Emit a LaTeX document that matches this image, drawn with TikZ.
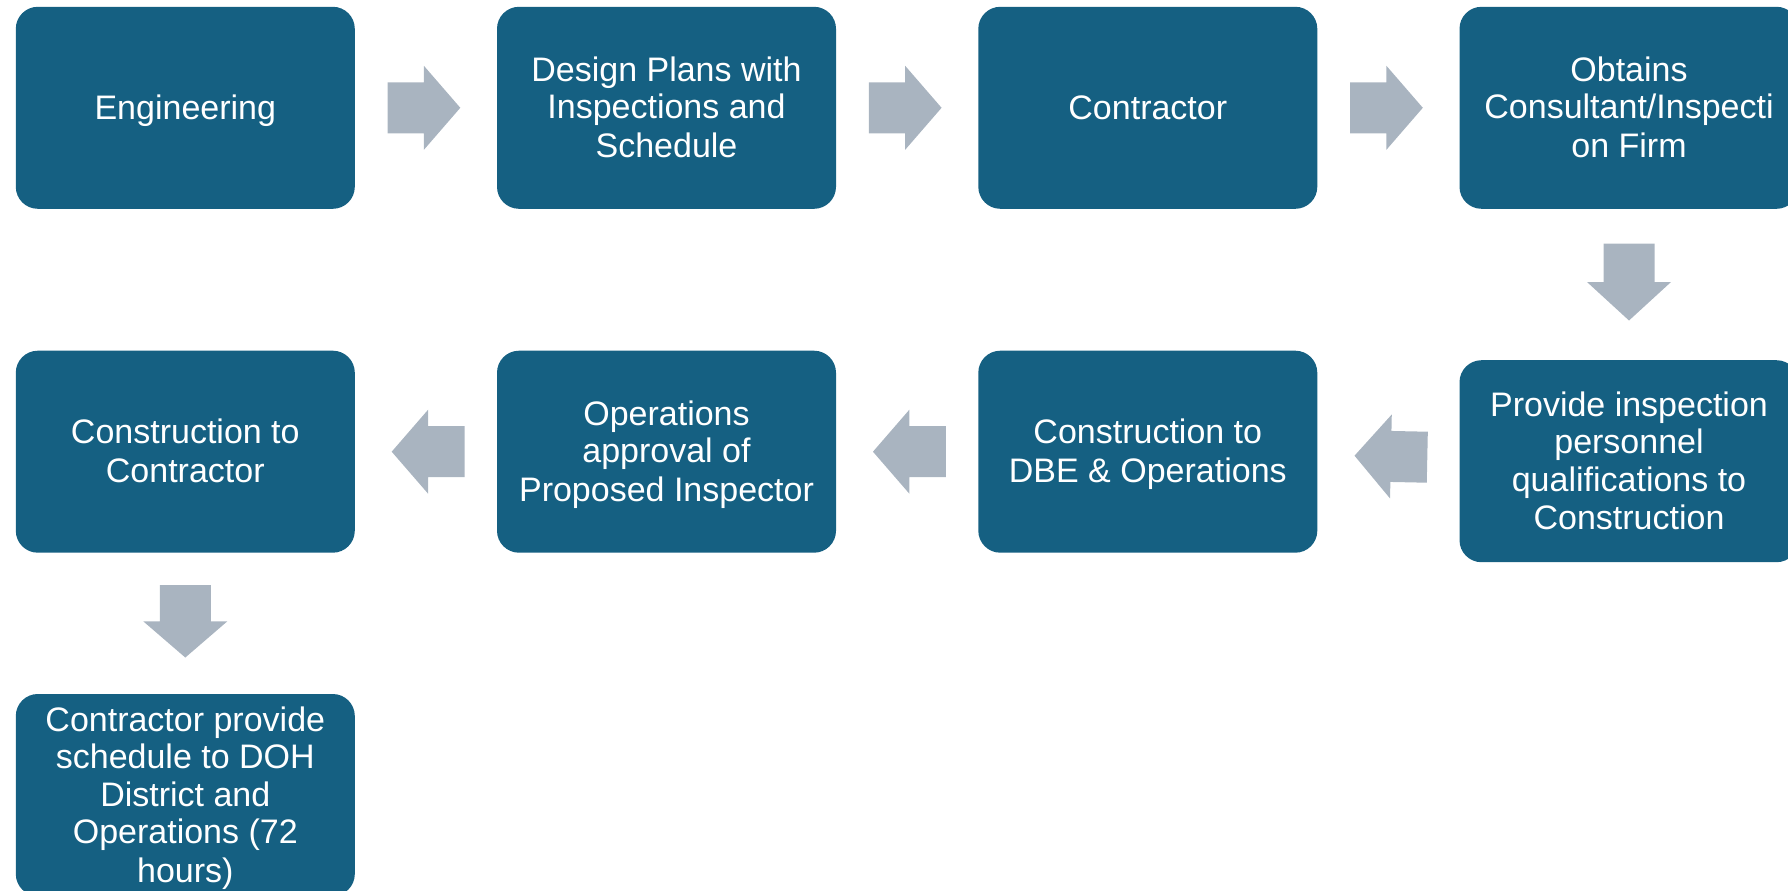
\documentclass[tikz,border=0pt]{standalone}
\usepackage{fontspec}
\setmainfont{Liberation Sans}
\usetikzlibrary{calc}
\definecolor{boxc}{HTML}{156082}
\definecolor{arrowc}{HTML}{A9B4C0}
\newcommand{\lnstrut}{\rule[-0.212em]{0pt}{1.117em}}
\begin{document}
\begin{tikzpicture}[x=1pt,y=-1pt,
  stepbox/.style={fill=boxc, rounded corners=22pt, minimum width=339pt, minimum height=202pt,
    inner sep=0pt, text=white, align=center, font=\fontsize{34}{37.5}\selectfont},
  harrow/.pic={\fill[arrowc] (-36.4,-25.5) -- (0,-25.5) -- (0,-42) -- (36.4,0) -- (0,42) -- (0,25.5) -- (-36.4,25.5) -- cycle;},
  varrow/.pic={\fill[arrowc] (-25.5,-38.5) -- (-25.5,0) -- (-42,0) -- (0,38.5) -- (42,0) -- (25.5,0) -- (25.5,-38.5) -- cycle;}]
\useasboundingbox (0,0) rectangle (1788,891);
% row 1
\node[stepbox] (n1) at (185.3,107.8) {\lnstrut Engineering};
\node[stepbox] (n2) at (666.5,107.8) {\lnstrut Design Plans with\\Inspections and\\Schedule\lnstrut};
\node[stepbox] (n3) at (1147.8,107.8) {\lnstrut Contractor};
\node[stepbox] (n4) at (1629,107.8) {\lnstrut Obtains\\Consultant/Inspecti\\on Firm\lnstrut};
% row 2
\node[stepbox] (r4) at (1629,461.2) {\lnstrut Provide inspection\\personnel\\qualifications to\\Construction\lnstrut};
\node[stepbox] (r3) at (1147.8,451.7) {\lnstrut Construction to\\DBE \& Operations\lnstrut};
\node[stepbox] (r2) at (666.5,451.7) {\lnstrut Operations\\approval of\\Proposed Inspector\lnstrut};
\node[stepbox] (r1) at (185.3,451.7) {\lnstrut Construction to\\Contractor\lnstrut};
% row 3
\node[stepbox] (b1) at (185.3,795) {\lnstrut Contractor provide\\schedule to DOH\\District and\\Operations (72\\hours)\lnstrut};
% arrows
\pic at ($(n1.east)!0.5!(n2.west)+(-2,0)$) {harrow};
\pic at ($(n2.east)!0.5!(n3.west)+(-2,0)$) {harrow};
\pic at ($(n3.east)!0.5!(n4.west)+(-2,0)$) {harrow};
\pic at ($(n4.south)!0.5!(r4.north)+(0,-2.5)$) {varrow};
\pic[rotate=178.8] at ($(r3.east)!0.5!(r4.west)+(2.5,0)$) {harrow};
\pic[rotate=180] at ($(r2.east)!0.5!(r3.west)+(2.2,0)$) {harrow};
\pic[rotate=180] at ($(r1.east)!0.5!(r2.west)+(2.2,0)$) {harrow};
\pic[yscale=0.94] at ($(r1.south)!0.5!(b1.north)+(0,-2)$) {varrow};
\end{tikzpicture}
\end{document}
